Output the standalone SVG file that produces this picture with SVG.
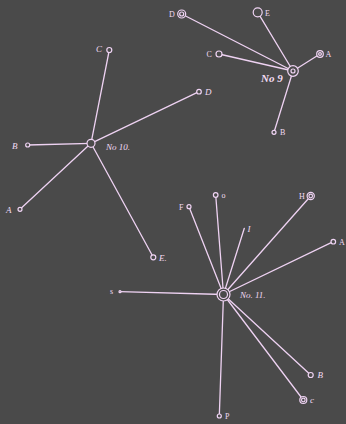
<svg xmlns="http://www.w3.org/2000/svg" width="346" height="424" viewBox="0 0 346 424">
<style>
.bg{fill:#4a4a4a}
.ln{stroke:#eed2f2;stroke-width:1.3;fill:none;stroke-linecap:round}
.nd{stroke:#f0d4f4;stroke-width:1.2;fill:#4a4a4a}
.t{font-family:"Liberation Serif",serif;font-size:8px;fill:#f2dcf4}
.ti{font-family:"Liberation Serif",serif;font-style:italic;font-size:9px;fill:#f2dcf4}
.tn{font-family:"Liberation Serif",serif;font-style:italic;font-weight:bold;font-size:11px;fill:#f2dcf4}
</style>
<rect class="bg" x="0" y="0" width="346" height="424"/>
<g id="connectors">
  <line class="ln" x1="293" y1="71" x2="181.7" y2="14"/>
  <line class="ln" x1="293" y1="71" x2="257.7" y2="12.3"/>
  <line class="ln" x1="293" y1="71" x2="219" y2="54"/>
  <line class="ln" x1="293" y1="71" x2="320" y2="54"/>
  <line class="ln" x1="293" y1="71" x2="274" y2="132.3"/>
  <line class="ln" x1="91" y1="143.3" x2="109.3" y2="50"/>
  <line class="ln" x1="91" y1="143.3" x2="199" y2="91.7"/>
  <line class="ln" x1="91" y1="143.3" x2="27.7" y2="145"/>
  <line class="ln" x1="91" y1="143.3" x2="20" y2="209.3"/>
  <line class="ln" x1="91" y1="143.3" x2="153.3" y2="257.3"/>
  <line class="ln" x1="223.5" y1="294.5" x2="189" y2="206.7"/>
  <line class="ln" x1="223.5" y1="294.5" x2="215.7" y2="195"/>
  <line class="ln" x1="223.5" y1="294.5" x2="244.3" y2="228.3"/>
  <line class="ln" x1="223.5" y1="294.5" x2="310.7" y2="196"/>
  <line class="ln" x1="223.5" y1="294.5" x2="333.3" y2="241.7"/>
  <line class="ln" x1="223.5" y1="294.5" x2="120" y2="291.7"/>
  <line class="ln" x1="223.5" y1="294.5" x2="310.7" y2="375"/>
  <line class="ln" x1="223.5" y1="294.5" x2="303.3" y2="400"/>
  <line class="ln" x1="223.5" y1="294.5" x2="219.3" y2="416"/>
</g>
<g id="no9">
  <circle class="nd" cx="293" cy="71" r="5.3"/>
  <circle class="nd" cx="293" cy="71" r="2"/>
  <text class="tn" x="261" y="82">No 9</text>
</g>
<g id="n9-D">
  <circle class="nd" cx="181.7" cy="14" r="4"/>
  <circle class="nd" cx="181.7" cy="14" r="2"/>
  <text class="t" x="169" y="16.5" font-size="7">D</text>
</g>
<g id="n9-E">
  <circle class="nd" cx="257.7" cy="12.3" r="4.5"/>
  <text class="t" x="265" y="15.5" font-size="7">E</text>
</g>
<g id="n9-C">
  <circle class="nd" cx="219" cy="54" r="3"/>
  <text class="t" x="206.5" y="56.5" font-size="7">C</text>
</g>
<g id="n9-A">
  <circle class="nd" cx="320" cy="54" r="3.3"/>
  <circle class="nd" cx="320" cy="54" r="1.4"/>
  <text class="t" x="325.5" y="56.5" font-size="7">A</text>
</g>
<g id="n9-B">
  <circle class="nd" cx="274" cy="132.3" r="2"/>
  <text class="t" x="280" y="134.5" font-size="6">B</text>
</g>
<g id="no10">
  <circle class="nd" cx="91" cy="143.3" r="4"/>
  <text class="ti" x="106" y="150" font-size="10">No 10.</text>
</g>
<g id="n10-C">
  <circle class="nd" cx="109.3" cy="50" r="2.5"/>
  <text class="ti" x="96" y="52">C</text>
</g>
<g id="n10-D">
  <circle class="nd" cx="199" cy="91.7" r="2.3"/>
  <text class="ti" x="205" y="95">D</text>
</g>
<g id="n10-B">
  <circle class="nd" cx="27.7" cy="145" r="2"/>
  <text class="ti" x="12" y="148.5">B</text>
</g>
<g id="n10-A">
  <circle class="nd" cx="20" cy="209.3" r="2"/>
  <text class="ti" x="6" y="213">A</text>
</g>
<g id="n10-E">
  <circle class="nd" cx="153.3" cy="257.3" r="2.5"/>
  <text class="ti" x="159" y="260.5">E.</text>
</g>
<g id="no11">
  <circle class="nd" cx="223.5" cy="294.5" r="6.5"/>
  <circle class="nd" cx="223.5" cy="294.5" r="4"/>
  <text class="ti" x="240" y="298">No. 11.</text>
</g>
<g id="n11-F">
  <circle class="nd" cx="189" cy="206.7" r="2"/>
  <text class="t" x="179" y="209.5">F</text>
</g>
<g id="n11-O">
  <circle class="nd" cx="215.7" cy="195" r="2.3"/>
  <text class="t" x="221.5" y="197.5">o</text>
</g>
<g id="n11-I">
  <text class="ti" x="247.5" y="231.5">I</text>
</g>
<g id="n11-H">
  <circle class="nd" cx="310.7" cy="196" r="3.6"/>
  <circle class="nd" cx="310.7" cy="196" r="1.8"/>
  <text class="t" x="299" y="199">H</text>
</g>
<g id="n11-A">
  <circle class="nd" cx="333.3" cy="241.7" r="2.3"/>
  <text class="t" x="339" y="244.5">A</text>
</g>
<g id="n11-S">
  <circle class="nd" cx="120" cy="291.7" r="1"/>
  <text class="t" x="110" y="294" font-size="6">s</text>
</g>
<g id="n11-B">
  <circle class="nd" cx="310.7" cy="375" r="2.5"/>
  <text class="ti" x="317.5" y="378" font-size="7">B</text>
</g>
<g id="n11-C">
  <circle class="nd" cx="303.3" cy="400" r="3.5"/>
  <circle class="nd" cx="303.3" cy="400" r="1.8"/>
  <text class="ti" x="310" y="403" font-size="8">c</text>
</g>
<g id="n11-P">
  <circle class="nd" cx="219.3" cy="416" r="2"/>
  <text class="t" x="225" y="418.5" font-size="6">P</text>
</g>
</svg>
